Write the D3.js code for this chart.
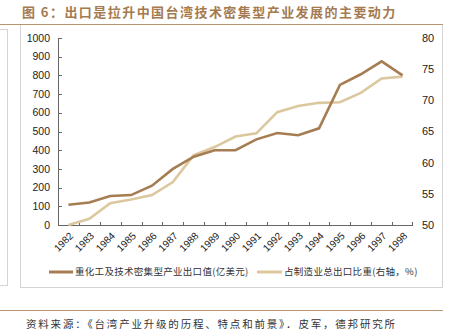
<!DOCTYPE html>
<html><head><meta charset="utf-8">
<script src="https://cdn.jsdelivr.net/npm/d3@7"></script>
<style>
html,body{margin:0;padding:0;background:#fff;}
svg{display:block;}
</style></head>
<body>
<svg id="c" width="451" height="336"></svg>
<script>
const years = ["1982","1983","1984","1985","1986","1987","1988","1989","1990","1991","1992","1993","1994","1995","1996","1997","1998"];
const exportValue = [108,120,155,160,210,300,365,400,400,458,492,480,517,749,806,875,800];
const exportShare = [50,51.0,53.5,54.1,54.8,56.9,61.2,62.5,64.2,64.7,68.1,69.1,69.6,69.7,71.2,73.5,73.8];
const leftTicks = [0,100,200,300,400,500,600,700,800,900,1000];
const rightTicks = [50,55,60,65,70,75,80];
const seriesNames = ["重化工及技术密集型产业出口值(亿美元)","占制造业总出口比重(右轴，%)"];
const titleText = "图 6：出口是拉升中国台湾技术密集型产业发展的主要动力";
const sourceText = "资料来源：《台湾产业升级的历程、特点和前景》．皮军，德邦研究所";

const svg = d3.select("#c");
const cjk = "'Noto Sans CJK SC','Noto Sans',sans-serif";
const latin = "'Liberation Sans',Arial,sans-serif";
const darkC = "#a67c52", lightC = "#dcc89e", brown = "#a57a4f";

// frames
svg.append("rect").attr("x",-5).attr("y",29.5).attr("width",12.5).attr("height",256).attr("fill","none").attr("stroke","#d4d4d4");
svg.append("rect").attr("x",20.5).attr("y",24.5).attr("width",422).attr("height",263).attr("fill","none").attr("stroke","#d4d4d4");
svg.append("line").attr("x1",0).attr("x2",443).attr("y1",24.5).attr("y2",24.5).attr("stroke","#b89470").attr("stroke-width",1.2);
svg.append("line").attr("x1",0).attr("x2",443).attr("y1",310.5).attr("y2",310.5).attr("stroke","#b89470").attr("stroke-width",1.2);

// title
svg.append("text").attr("x",22).attr("y",17).text(titleText)
  .attr("font-family",cjk).attr("font-size",13).attr("font-weight","bold").attr("letter-spacing",1.45).attr("fill",brown);
// source
svg.append("text").attr("x",26).attr("y",328).text(sourceText)
  .attr("font-family",cjk).attr("font-size",10.5).attr("letter-spacing",1.8).attr("fill","#333");

const x = d3.scaleBand().domain(years).range([58,413]);
const yL = d3.scaleLinear().domain([0,1000]).range([225,38]);
const yR = d3.scaleLinear().domain([50,80]).range([225,38]);
const cx = d => x(d)+x.bandwidth()/2;

// left axis
svg.append("line").attr("x1",58.5).attr("x2",58.5).attr("y1",yL(1000)).attr("y2",yL(0)).attr("stroke","#666");
leftTicks.forEach(t=>{
  svg.append("line").attr("x1",58.5).attr("x2",62).attr("y1",Math.round(yL(t))+0.5).attr("y2",Math.round(yL(t))+0.5).attr("stroke","#666");
  svg.append("text").attr("x",50).attr("y",yL(t)).attr("dy","0.35em").attr("text-anchor","end")
    .attr("font-family",latin).attr("font-size",10.5).attr("fill","#222").text(t);
});
// right axis labels
rightTicks.forEach(t=>{
  svg.append("text").attr("x",422).attr("y",yR(t)).attr("dy","0.35em").attr("text-anchor","start")
    .attr("font-family",latin).attr("font-size",11).attr("fill","#222").text(t);
});
// x axis
svg.append("line").attr("x1",58).attr("x2",413).attr("y1",225.5).attr("y2",225.5).attr("stroke","#666");
years.forEach((d,i)=>{
  const bx = Math.round(x(d))+0.5;
  if(i>0) svg.append("line").attr("x1",bx).attr("x2",bx).attr("y1",225.5).attr("y2",222).attr("stroke","#666");
});
svg.append("line").attr("x1",412.5).attr("x2",412.5).attr("y1",225.5).attr("y2",222).attr("stroke","#666");
years.forEach(d=>{
  svg.append("text").attr("transform",`translate(${cx(d)+3},${234}) rotate(-45)`)
    .attr("text-anchor","end").attr("dy","0.35em")
    .attr("font-family",latin).attr("font-size",10).attr("fill","#222").text(d);
});

// lines
svg.append("path").datum(exportShare).attr("fill","none").attr("stroke",lightC).attr("stroke-width",2.6)
  .attr("d",d3.line().x((v,i)=>cx(years[i])).y(v=>yR(v)));
svg.append("path").datum(exportValue).attr("fill","none").attr("stroke",darkC).attr("stroke-width",2.6)
  .attr("d",d3.line().x((v,i)=>cx(years[i])).y(v=>yL(v)));

// legend
const lg = [{x1:49,x2:73,tx:75,c:darkC,t:seriesNames[0]},{x1:257,x2:282,tx:284,c:lightC,t:seriesNames[1]}];
lg.forEach(l=>{
  svg.append("line").attr("x1",l.x1).attr("x2",l.x2).attr("y1",272).attr("y2",272).attr("stroke",l.c).attr("stroke-width",3);
  svg.append("text").attr("x",l.tx).attr("y",272).attr("dy","0.35em").attr("font-family",cjk).attr("font-size",9.5)
    .attr("letter-spacing",0.3).attr("fill","#333").text(l.t);
});
</script>
</body></html>
